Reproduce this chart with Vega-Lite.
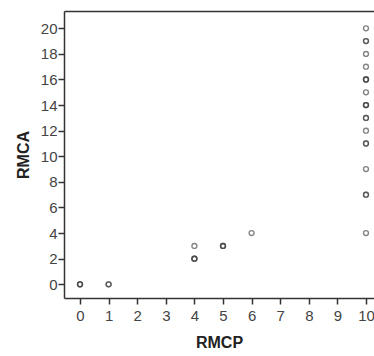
{
  "$schema": "https://vega.github.io/schema/vega-lite/v6.json",
  "width": 310,
  "height": 287,
  "autosize": "none",
  "padding": {"left": 64, "top": 11, "right": 0, "bottom": 58},
  "background": "white",
  "config": {
    "view": {"stroke": null}
  },
  "data": {
    "values": [
      {"RMCP": 0, "RMCA": 0}, {"RMCP": 0, "RMCA": 0}, {"RMCP": 0, "RMCA": 0},
      {"RMCP": 1, "RMCA": 0}, {"RMCP": 1, "RMCA": 0},
      {"RMCP": 4, "RMCA": 3},
      {"RMCP": 4, "RMCA": 2}, {"RMCP": 4, "RMCA": 2}, {"RMCP": 4, "RMCA": 2},
      {"RMCP": 5, "RMCA": 3}, {"RMCP": 5, "RMCA": 3}, {"RMCP": 5, "RMCA": 3},
      {"RMCP": 6, "RMCA": 4},
      {"RMCP": 10, "RMCA": 20},
      {"RMCP": 10, "RMCA": 19}, {"RMCP": 10, "RMCA": 19},
      {"RMCP": 10, "RMCA": 18},
      {"RMCP": 10, "RMCA": 17},
      {"RMCP": 10, "RMCA": 16}, {"RMCP": 10, "RMCA": 16}, {"RMCP": 10, "RMCA": 16},
      {"RMCP": 10, "RMCA": 15},
      {"RMCP": 10, "RMCA": 14}, {"RMCP": 10, "RMCA": 14}, {"RMCP": 10, "RMCA": 14},
      {"RMCP": 10, "RMCA": 13}, {"RMCP": 10, "RMCA": 13},
      {"RMCP": 10, "RMCA": 12},
      {"RMCP": 10, "RMCA": 11}, {"RMCP": 10, "RMCA": 11},
      {"RMCP": 10, "RMCA": 9},
      {"RMCP": 10, "RMCA": 7}, {"RMCP": 10, "RMCA": 7},
      {"RMCP": 10, "RMCA": 4}
    ]
  },
  "resolve": {"axis": {"x": "independent", "y": "independent"}},
  "layer": [
    {
      "mark": {"type": "point", "filled": false, "color": "#444444", "size": 24, "strokeWidth": 1.4, "opacity": 0.65},
      "encoding": {
        "x": {
          "field": "RMCP", "type": "quantitative",
          "scale": {"domain": [-0.56, 10.28], "nice": false, "zero": false},
          "axis": {
            "orient": "bottom", "values": [0,1,2,3,4,5,6,7,8,9,10], "grid": false,
            "domainColor": "#333333", "domainWidth": 1.5, "tickColor": "#333333", "tickWidth": 1.5, "tickSize": 6,
            "labelFont": "Liberation Sans", "labelFontSize": 15, "labelColor": "#444444", "labelPadding": 4,
            "title": "RMCP", "titleFont": "Liberation Sans", "titleFontSize": 16, "titleFontWeight": "bold", "titleColor": "#222222", "titlePadding": 11
          }
        },
        "y": {
          "field": "RMCA", "type": "quantitative",
          "scale": {"domain": [-1.07, 21.35], "nice": false, "zero": false},
          "axis": {
            "orient": "left", "values": [0,2,4,6,8,10,12,14,16,18,20], "grid": false,
            "domainColor": "#333333", "domainWidth": 1.5, "tickColor": "#333333", "tickWidth": 1.5, "tickSize": 6,
            "labelFont": "Liberation Sans", "labelFontSize": 15, "labelColor": "#444444", "labelPadding": 1,
            "title": "RMCA", "titleFont": "Liberation Sans", "titleFontSize": 16, "titleFontWeight": "bold", "titleColor": "#222222", "titlePadding": 9
          }
        }
      }
    },
    {
      "mark": {"type": "point", "opacity": 0},
      "encoding": {
        "x": {
          "field": "RMCP", "type": "quantitative",
          "axis": {"orient": "top", "ticks": false, "labels": false, "title": null, "grid": false, "domainColor": "#333333", "domainWidth": 1.5}
        },
        "y": {"field": "RMCA", "type": "quantitative", "axis": null}
      }
    }
  ]
}
